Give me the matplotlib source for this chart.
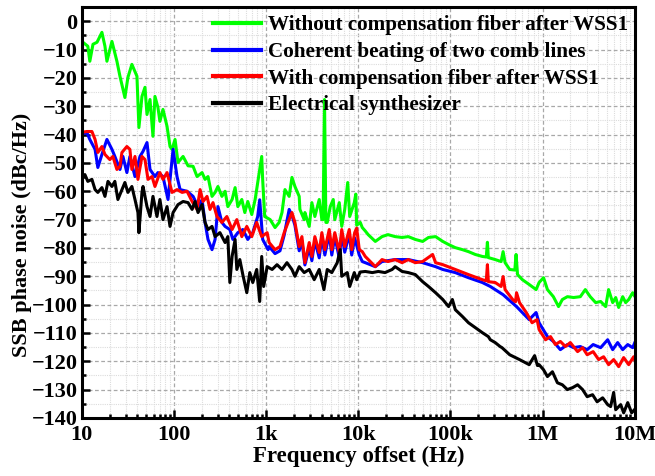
import matplotlib
matplotlib.use("Agg")
import matplotlib.pyplot as plt
from matplotlib.ticker import MultipleLocator, FixedLocator, NullFormatter

# (frequency offset in Hz, SSB phase noise in dBc/Hz)
without_comp = [
    (10, -7.1), (11.6, -8.8), (12.2, -14.1), (13.2, -8.1), (14.6, -7.4), (16.5, -3.9),
    (17.8, -8.8), (18.7, -14.1), (21.2, -7.1), (24.0, -14.1), (25.9, -19.4), (29.3, -26.9),
    (31.6, -19.8), (34.9, -15.2), (39.6, -19.4), (41.6, -37.5), (44.9, -26.5), (48.4, -23.3),
    (50.9, -32.9), (54.9, -27.6), (59.1, -40.6), (62.1, -26.5), (66.9, -30.4), (70.3, -35.3),
    (75.9, -31.1), (84.0, -37.1), (90.5, -44.2), (95.1, -45.2), (102.6, -41.7), (110.5, -49.8),
    (125.4, -47.7), (142.0, -51.0), (161.1, -51.2), (177.8, -54.8), (201.6, -53.4), (217.2, -55.8),
    (233.9, -54.8), (258.5, -61.8), (279.1, -60.4), (299.7, -58.3), (331.1, -61.8), (358.4, -60.0),
    (383.9, -65.4), (427.0, -62.9), (460.3, -58.7), (492.7, -65.4), (544.4, -62.9), (586.6, -67.5),
    (632.0, -63.6), (698.3, -68.2), (759.4, -62.9), (809.8, -56.9), (894.8, -47.7), (917.2, -56.0),
    (964.1, -68.9), (1105, -70.0), (1249, -72.8), (1384, -71.0), (1486, -67.5), (1601, -59.4),
    (1778, -61.8), (1905, -55.1), (2053, -58.3), (2284, -61.8), (2325, -66.4), (2588, -70.0),
    (2633, -67.5), (2934, -72.4), (3134, -64.0), (3378, -68.9), (3768, -62.9), (4023, -70.0),
    (4150, -70.0), (4300, -27.6), (4450, -71.0), (4603, -71.0), (4963, -65.4), (5350, -62.9),
    (5559, -70.0), (6217, -64.0), (6614, -72.4), (7127, -66.4), (7680, -56.9), (8072, -68.9),
    (9050, -64.0), (9400, -61.0), (9608, -72.0), (10510, -71.0), (11050, -72.8), (11900, -74.0),
    (12800, -75.3), (15300, -77.7), (18100, -76.0), (21000, -75.3), (25100, -76.0), (29900, -76.3),
    (34900, -76.0), (41600, -77.0), (49900, -77.7), (57800, -76.3), (69000, -76.0), (82600, -77.7),
    (95600, -78.8), (113000, -79.9), (135000, -80.6), (157000, -81.3), (186000, -82.3),
    (222000, -83.0), (245000, -83.2), (252000, -78.0), (258000, -83.4), (306000, -84.1),
    (355000, -84.8), (373000, -81.3), (392000, -85.2), (440000, -87.6), (500000, -87.8),
    (516000, -82.3), (535000, -89.4), (604000, -91.2), (716000, -92.9), (851000, -94.7),
    (917000, -92.2), (1.025e6, -90.5), (1.13e6, -94.7), (1.31e6, -97.2), (1.49e6, -100.7),
    (1.64e6, -98.2), (1.86e6, -97.2), (2.17e6, -97.5), (2.57e6, -97.2), (2.91e6, -94.7),
    (3.29e6, -97.2), (3.77e6, -99.3), (4.27e6, -98.9), (4.84e6, -100.7), (5.21e6, -94.7),
    (5.77e6, -99.3), (6.22e6, -97.5), (6.70e6, -101.0), (7.41e6, -97.2), (7.98e6, -99.3),
    (8.61e6, -98.2), (9.51e6, -95.8), (10e6, -97.0),
]

coherent = [
    (10, -39.9), (11.3, -39.2), (12.2, -41.7), (13.9, -45.2), (14.9, -51.6), (16.5, -47.0),
    (18.7, -41.7), (21.2, -45.2), (22.8, -47.7), (25.9, -52.3), (27.9, -47.7), (30.8, -53.4),
    (33.2, -47.7), (37.7, -54.8), (42.7, -47.7), (46.1, -45.9), (50.9, -42.8), (54.9, -52.3),
    (62.1, -54.8), (66.9, -53.4), (75.9, -54.8), (86.1, -62.9), (97.7, -45.2), (107.8, -54.8),
    (116.4, -59.4), (138.5, -60.0), (161.1, -61.8), (182.3, -65.4), (201.6, -63.0), (217.2, -71.0),
    (233.9, -77.0), (258.5, -80.6), (279.1, -77.0), (299.7, -65.4), (331.1, -71.0), (358.4, -72.4),
    (403.6, -73.5), (435.5, -77.0), (492.7, -74.6), (558.0, -73.5), (632.0, -77.0), (715.8, -74.6),
    (809.8, -68.9), (851.2, -63.0), (917.2, -77.0), (1051, -80.6), (1078, -79.5), (1249, -82.0),
    (1414, -81.0), (1569, -75.5), (1778, -66.4), (1905, -68.5), (2053, -72.0), (2284, -81.0),
    (2444, -77.5), (2633, -86.0), (2934, -80.0), (3134, -84.5), (3378, -77.5), (3768, -83.5),
    (4023, -76.0), (4335, -82.5), (4838, -75.0), (5158, -82.5), (5559, -76.0), (6217, -83.5),
    (6614, -75.0), (7127, -81.5), (7980, -75.0), (8484, -82.5), (9141, -76.5), (10250, -82.5),
    (11050, -84.8), (11900, -85.2), (15300, -86.6), (18100, -84.8), (25100, -84.1), (34900, -84.1),
    (49900, -85.2), (69000, -86.6), (82600, -87.6), (113000, -88.7), (157000, -90.5),
    (222000, -92.2), (271000, -93.6), (373000, -96.5), (522000, -100.7), (716000, -105.3),
    (851000, -102.8), (917000, -106.4), (1.13e6, -111.3), (1.31e6, -113.0), (1.56e6, -115.9),
    (1.86e6, -114.1), (2.17e6, -115.2), (2.57e6, -114.8), (3.05e6, -115.9), (3.54e6, -114.1),
    (4.27e6, -115.2), (5.09e6, -112.4), (5.77e6, -115.9), (6.53e6, -113.4), (7.41e6, -115.9),
    (8.40e6, -114.1), (9.51e6, -115.2), (10e6, -113.5),
]

with_comp = [
    (10, -39.2), (11.3, -38.9), (12.85, -38.9), (13.9, -41.7), (14.9, -46.3), (16.5, -44.2),
    (17.8, -47.0), (20.1, -48.8), (21.7, -47.7), (24.0, -52.3), (25.9, -51.2), (27.2, -46.3),
    (30.8, -44.2), (33.2, -45.2), (34.9, -52.3), (37.7, -47.7), (40.6, -55.8), (44.9, -47.7),
    (48.4, -48.8), (52.2, -55.8), (57.7, -54.8), (62.1, -58.3), (70.3, -53.4), (75.9, -55.8),
    (84.0, -53.4), (95.1, -60.4), (107.8, -59.4), (122.4, -60.4), (138.5, -60.0), (157.2, -63.6),
    (177.8, -66.4), (191.9, -59.4), (206.6, -63.6), (228.2, -61.8), (245.9, -66.4), (264.9, -64.0),
    (292.4, -68.9), (331.1, -71.0), (374.6, -68.9), (427.0, -73.5), (480.7, -70.0), (544.4, -76.0),
    (616.6, -72.4), (698.3, -76.0), (790.0, -71.0), (894.8, -76.0), (1025, -74.6), (1078, -78.1),
    (1249, -80.6), (1414, -79.5), (1569, -74.6), (1778, -70.0), (1905, -67.5), (2053, -71.0),
    (2284, -79.5), (2444, -76.0), (2633, -85.2), (2934, -78.1), (3134, -83.0), (3378, -76.0),
    (3768, -81.6), (4023, -74.6), (4335, -80.6), (4838, -73.5), (5158, -80.6), (5559, -74.6),
    (6217, -81.6), (6614, -73.5), (7127, -79.5), (7980, -73.5), (8484, -80.6), (9141, -74.6),
    (9608, -73.0), (10250, -80.6), (11050, -81.3), (11900, -83.0), (15300, -86.6), (18100, -84.1),
    (21000, -84.8), (25100, -84.1), (29900, -85.2), (34900, -84.1), (41600, -85.2), (49900, -84.8),
    (64100, -82.3), (69000, -85.2), (82600, -85.9), (113000, -87.6), (157000, -89.4),
    (222000, -91.2), (245000, -91.6), (252000, -85.9), (258000, -91.9), (306000, -92.2),
    (355000, -93.6), (373000, -90.1), (392000, -94.7), (474000, -98.2), (509000, -99.0),
    (522000, -95.8), (562000, -99.3), (666000, -102.8), (770000, -106.4), (872000, -105.3),
    (917000, -108.8), (1.078e6, -112.4), (1.22e6, -111.3), (1.38e6, -114.1), (1.56e6, -113.0),
    (1.77e6, -114.8), (2.0e6, -113.4), (2.40e6, -116.6), (2.72e6, -115.2), (3.05e6, -117.7),
    (3.54e6, -116.6), (4.06e6, -119.4), (4.60e6, -118.4), (5.21e6, -121.2), (5.91e6, -119.4),
    (6.70e6, -121.9), (7.59e6, -118.7), (8.61e6, -121.2), (9.74e6, -118.4), (10e6, -119.5),
]

synthesizer = [
    (10, -55.1), (10.78, -54.1), (11.6, -56.5), (12.85, -55.8), (13.9, -59.4), (14.9, -60.4),
    (16.5, -58.7), (17.8, -61.8), (19.2, -56.5), (21.2, -58.3), (22.8, -56.5), (24.6, -62.9),
    (27.2, -59.4), (29.3, -56.9), (31.6, -60.4), (34.9, -58.3), (37.7, -62.9), (40.6, -67.5),
    (41.6, -74.6), (44.9, -60.4), (46.1, -58.3), (50.9, -65.4), (54.9, -68.9), (59.1, -61.8),
    (65.3, -68.9), (70.3, -62.9), (75.9, -70.0), (84.0, -65.4), (90.5, -72.4), (97.7, -67.5),
    (110.5, -64.7), (125.4, -63.6), (142.0, -64.0), (157.2, -66.4), (169.0, -63.6), (182.3, -67.5),
    (201.6, -64.7), (217.2, -71.0), (233.9, -73.5), (258.5, -72.4), (279.1, -76.0), (315.0, -74.6),
    (358.4, -78.1), (383.9, -76.0), (403.6, -92.2), (427.0, -83.0), (460.3, -77.0), (480.7, -87.6),
    (517.9, -84.1), (558.0, -89.4), (616.6, -95.8), (664.3, -88.7), (715.8, -92.2), (790.0, -87.6),
    (851.2, -98.9), (894.8, -83.0), (940, -93.6), (1025, -86.6), (1161, -87.6), (1312, -85.9),
    (1486, -87.6), (1682, -85.2), (1905, -87.6), (2053, -90.0), (2284, -86.6), (2588, -88.7),
    (2934, -87.6), (3324, -91.2), (3768, -87.6), (4237, -94.7), (4603, -87.6), (5158, -88.7),
    (5910, -85.2), (6372, -80.6), (6614, -90.0), (7594, -88.7), (8072, -93.6), (9050, -88.7),
    (9608, -91.2), (10510, -88.5), (11900, -88.3), (14200, -88.7), (16500, -88.3), (19500, -88.7),
    (23300, -87.6), (25100, -86.6), (29900, -88.3), (34900, -88.7), (41600, -89.4), (49900, -91.9),
    (57800, -93.6), (69000, -95.8), (82600, -98.2), (95600, -100.7), (105000, -98.2),
    (113000, -101.8), (135000, -104.2), (157000, -106.4), (186000, -108.1), (222000, -109.9),
    (258000, -111.3), (271000, -112.4), (306000, -113.4), (346000, -114.8), (363000, -115.2),
    (440000, -117.7), (562000, -119.4), (716000, -121.2), (820000, -118.0), (880000, -121.5),
    (917000, -121.2), (1.025e6, -123.0), (1.13e6, -125.4), (1.28e6, -123.7), (1.45e6, -127.6),
    (1.64e6, -128.3), (1.86e6, -130.0), (2.12e6, -129.3), (2.40e6, -128.3), (2.72e6, -130.0),
    (3.05e6, -132.5), (3.49e6, -131.8), (3.91e6, -134.3), (4.49e6, -132.9), (5.09e6, -135.3),
    (5.48e6, -136.0), (5.91e6, -131.0), (6.22e6, -137.1), (7.05e6, -135.3), (7.59e6, -138.2),
    (8.40e6, -134.6), (9.27e6, -138.2), (10e6, -137.0),
]

labels = ["Without compensation fiber after WSS1",
          "Coherent beating of two comb lines",
          "With compensation fiber after WSS1",
          "Electrical synthesizer"]
colors = ["#00ff00", "#0000ff", "#ff0000", "#000000"]
series = [without_comp, coherent, with_comp, synthesizer]

x_ticks = [10, 100, 1e3, 1e4, 1e5, 1e6, 1e7]
x_tick_labels = ["10", "100", "1k", "10k", "100k", "1M", "10M"]

plt.rcParams["font.family"] = "Liberation Serif"
plt.rcParams["font.weight"] = "bold"

fig = plt.figure(figsize=(6.55, 4.76), dpi=100)
ax = fig.add_axes([0.125, 0.122, 0.844, 0.863])

for data, c, lab in zip(series, colors, labels):
    f = [p[0] for p in data]
    v = [p[1] for p in data]
    ax.plot(f, v, color=c, lw=2.2, label=lab)

ax.set_xscale("log")
ax.set_xlim(10, 1e7)
ax.set_ylim(-140, 5)
ax.set_xticks(x_ticks)
ax.set_xticklabels(x_tick_labels)
ax.xaxis.set_minor_locator(FixedLocator(
    [m * 10 ** e for e in range(1, 7) for m in range(2, 10)]))
ax.xaxis.set_minor_formatter(NullFormatter())
ax.yaxis.set_major_locator(MultipleLocator(10))
ax.yaxis.set_minor_locator(MultipleLocator(5))

ax.grid(which="major", color="#a8a8a8", ls=(0, (3, 2)), lw=0.9)
ax.grid(which="minor", color="#dcdcdc", ls=(0, (1, 1)), lw=0.8)
ax.set_axisbelow(True)

ax.tick_params(which="both", direction="in", top=False, right=False,
               labelsize=16, width=1.8)
ax.tick_params(which="major", length=6, pad=3)
ax.tick_params(which="minor", length=3)
ax.tick_params(axis="x", which="major", pad=5)
for s in ax.spines.values():
    s.set_linewidth(2.2)

ax.set_xlabel("Frequency offset (Hz)", fontsize=16.5, fontweight="bold", labelpad=1)
ax.set_ylabel("SSB phase noise (dBc/Hz)", fontsize=16, fontweight="bold")
ax.yaxis.set_label_coords(-0.09, 0.445)

leg = ax.legend(loc="upper right", frameon=False, fontsize=15.2, handlelength=2.3,
                handletextpad=0.3, labelspacing=0.31, borderaxespad=0.0,
                borderpad=0.2, bbox_to_anchor=(0.995, 0.99))
for line in leg.get_lines():
    line.set_linewidth(3)

fig.savefig("out.png", dpi=100)
